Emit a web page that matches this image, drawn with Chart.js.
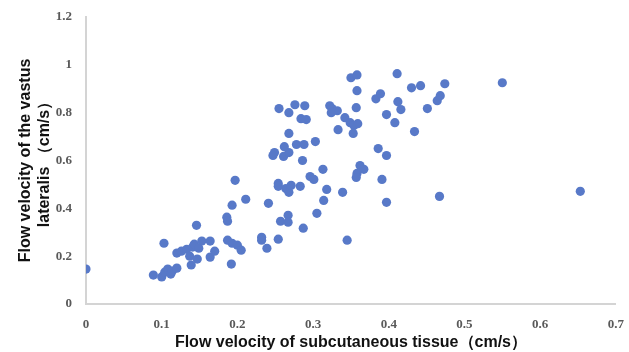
<!DOCTYPE html>
<html>
<head>
    <title>Flow velocity scatter</title>
    <style>
        body { margin: 0; background: #ffffff; }
        canvas { display: block; }
    </style>
</head>
<body>

<canvas id="flowChart" width="629" height="352"></canvas>

<script src="https://cdn.jsdelivr.net/npm/chart.js"></script>
<script>
    // subcutaneous tissue flow velocity (cm/s)
    const subcutaneous = [
        0.000, 0.089, 0.100, 0.103, 0.104, 0.108, 0.112, 0.114, 0.120, 0.120,
        0.126, 0.133, 0.137, 0.139, 0.141, 0.143, 0.146, 0.147, 0.149, 0.153,
        0.164, 0.164, 0.170, 0.186, 0.187, 0.187, 0.192, 0.193, 0.197, 0.193,
        0.200, 0.205, 0.211, 0.232, 0.232, 0.239, 0.241, 0.254, 0.254, 0.254,
        0.257, 0.264, 0.267, 0.267, 0.268, 0.271, 0.283, 0.287, 0.286, 0.296,
        0.301, 0.305, 0.313, 0.314, 0.318, 0.339, 0.345, 0.362, 0.367, 0.358,
        0.357, 0.391, 0.397, 0.386, 0.397, 0.467, 0.653, 0.255, 0.268, 0.276,
        0.289, 0.284, 0.291, 0.268, 0.249, 0.247, 0.262, 0.261, 0.268, 0.278,
        0.288, 0.303, 0.322, 0.325, 0.332, 0.324, 0.342, 0.349, 0.354, 0.359,
        0.333, 0.353, 0.357, 0.358, 0.350, 0.358, 0.411, 0.430, 0.442, 0.474,
        0.550, 0.383, 0.389, 0.412, 0.416, 0.397, 0.408, 0.451, 0.464, 0.468,
        0.434
    ];
    // vastus lateralis flow velocity (cm/s)
    const vastus = [
        0.146, 0.121, 0.113, 0.254, 0.133, 0.146, 0.125, 0.138, 0.150, 0.213,
        0.221, 0.229, 0.200, 0.163, 0.238, 0.250, 0.329, 0.188, 0.233, 0.263,
        0.263, 0.196, 0.221, 0.363, 0.346, 0.267, 0.167, 0.413, 0.517, 0.254,
        0.246, 0.225, 0.438, 0.279, 0.267, 0.233, 0.421, 0.271, 0.504, 0.492,
        0.346, 0.483, 0.371, 0.342, 0.467, 0.496, 0.492, 0.317, 0.600, 0.533,
        0.521, 0.379, 0.563, 0.433, 0.479, 0.467, 0.267, 0.579, 0.563, 0.546,
        0.529, 0.521, 0.425, 0.650, 0.621, 0.450, 0.471, 0.817, 0.800, 0.833,
        0.829, 0.775, 0.771, 0.713, 0.633, 0.621, 0.658, 0.617, 0.633, 0.667,
        0.667, 0.679, 0.829, 0.817, 0.808, 0.800, 0.779, 0.758, 0.746, 0.754,
        0.729, 0.713, 0.821, 0.892, 0.946, 0.958, 0.963, 0.904, 0.913, 0.921,
        0.925, 0.858, 0.879, 0.846, 0.813, 0.792, 0.758, 0.817, 0.850, 0.871,
        0.721
    ];
    const xTicks = [0, 0.1, 0.2, 0.3, 0.4, 0.5, 0.6, 0.7];
    const yTicks = [0, 0.2, 0.4, 0.6, 0.8, 1, 1.2];
    const xTitle = 'Flow velocity of subcutaneous tissue（cm/s）';
    const yTitle = ['Flow velocity of the vastus', 'lateralis （cm/s）'];

    const points = subcutaneous.map((x, i) => ({ x: x, y: vastus[i] }));

    const tickFont = { family: "'Liberation Serif', serif", size: 13, weight: 'bold' };
    const titleFont = { family: "Arial, 'Liberation Sans', sans-serif", size: 16, weight: 'bold' };
    // 1.0 -> "1", 0.2 -> "0.2"
    const fmt = v => String(+v.toFixed(1));

    new Chart(document.getElementById('flowChart'), {
        type: 'scatter',
        data: {
            datasets: [{
                data: points,
                backgroundColor: '#5879c8',
                borderWidth: 0,
                pointRadius: 4.6
            }]
        },
        options: {
            responsive: false,
            animation: false,
            layout: { padding: { top: 17, right: 0, left: 0, bottom: 0 } },
            plugins: { legend: { display: false }, tooltip: { enabled: false } },
            scales: {
                x: {
                    type: 'linear',
                    min: 0, max: 0.7,
                    afterBuildTicks: s => { s.ticks = xTicks.map(v => ({ value: v })); },
                    afterFit: s => { s.height = 48; },
                    grid: { display: false },
                    border: { display: true, color: '#d4d4d4', width: 2 },
                    ticks: { color: '#595959', font: tickFont, padding: 5, maxRotation: 0, callback: fmt },
                    title: { display: true, text: xTitle, color: '#111', font: titleFont, padding: { top: 2, bottom: 0 } }
                },
                y: {
                    type: 'linear',
                    min: 0, max: 1.2,
                    afterBuildTicks: s => { s.ticks = yTicks.map(v => ({ value: v })); },
                    afterFit: s => { s.width = 86; },
                    grid: { display: false },
                    border: { display: true, color: '#d4d4d4', width: 2 },
                    ticks: { color: '#595959', font: tickFont, padding: 6, callback: fmt },
                    title: { display: true, text: yTitle, color: '#111', font: titleFont, padding: { top: 16, bottom: 6 } }
                }
            }
        }
    });
</script>

</body>
</html>
